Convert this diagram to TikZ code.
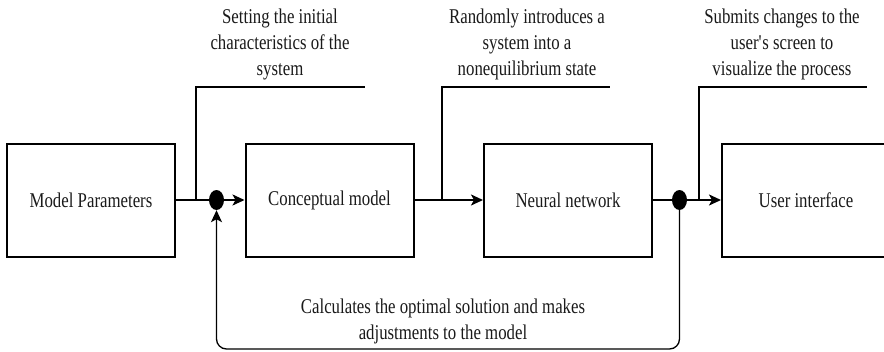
\documentclass[tikz,border=0pt]{standalone}
\usepackage{fontspec}
\setmainfont[FakeStretch=0.8]{Liberation Serif}
\usetikzlibrary{arrows.meta,shapes.geometric}
\definecolor{txt}{HTML}{1A1A1A}
\tikzset{
  blk/.style={draw=black, line width=2pt, minimum width=168pt, minimum height=113pt,
    inner sep=0pt, font=\fontsize{21}{26}\selectfont, text=txt},
  jdot/.style={ellipse, fill=black, draw=none, minimum width=15pt, minimum height=20pt, inner sep=0pt},
  lbl/.style={align=center, inner sep=0pt, font=\fontsize{21}{26}\selectfont, text=txt},
  wire/.style={draw=black, line width=1.8pt},
  thin/.style={draw=black, line width=1.3pt},
  arr/.style={-{Stealth[length=12pt,width=11pt,inset=3pt]}}
}
\begin{document}
\begin{tikzpicture}[x=1pt,y=-1pt]
\clip (0,0) rectangle (884,351);
\fill[white] (0,0) rectangle (884,351);
% boxes
\node[blk] (mp) at (91,200) {Model Parameters};
\node[blk] (cm) at (329.5,200) {Conceptual model};
\node[blk] (nn) at (568,200) {Neural network};
\node[blk] (ui) at (806,200) {User interface};
% junction dots
\node[jdot] (d1) at (216.5,200) {};
\node[jdot] (d2) at (679.5,200) {};
% main flow
\draw[wire] (mp.east) -- (d1.west);
\draw[wire,arr] (d1.east) -- (cm.west);
\draw[wire,arr] (cm.east) -- (nn.west);
\draw[wire] (nn.east) -- (d2.west);
\draw[wire,arr] (d2.east) -- (ui.west);
% annotation brackets
\coordinate (a1) at (196,200);
\coordinate (a1e) at (365,87);
\coordinate (a2) at (442,200);
\coordinate (a2e) at (610,87);
\coordinate (a3) at (699,200);
\coordinate (a3e) at (867,87);
\draw[thin] (a1) |- (a1e);
\draw[thin] (a2) |- (a2e);
\draw[thin] (a3) |- (a3e);
% annotation texts
\node[lbl, anchor=north] (t1) at (280,9) {Setting the initial\\characteristics of the\\system};
\node[lbl, anchor=north] (t2) at (527,9) {Randomly introduces a\\system into a\\nonequilibrium state};
\node[lbl, anchor=north] (t3) at (782,9) {Submits changes to the\\user\textquotesingle s screen to\\visualize the process};
% feedback loop
\coordinate (fb) at (448,349);
\draw[thin,arr,rounded corners=10pt] (d2.south) |- (fb) -| (d1.south);
\node[lbl, anchor=north] (t4) at (443,299) {Calculates the optimal solution and makes\\adjustments to the model};
\end{tikzpicture}
\end{document}
